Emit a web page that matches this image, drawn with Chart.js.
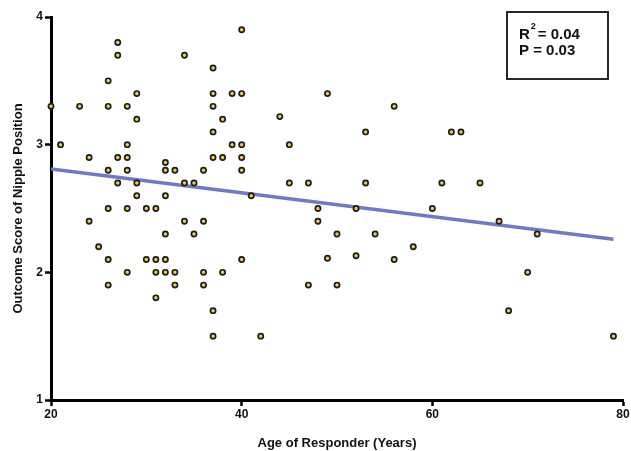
<!DOCTYPE html>
<html>
<head>
<meta charset="utf-8">
<script src="https://cdn.jsdelivr.net/npm/chart.js@4"></script>
<style>
  html, body { margin: 0; padding: 0; background: #fff; }
  #wrap { width: 631px; height: 451px; }
</style>
</head>
<body>
<div id="wrap"><canvas id="myChart" width="631" height="451"></canvas></div>
<script>
// age of responder (years) and outcome score
const ages = [27, 27, 26, 29, 20, 23, 26, 28, 29, 21, 28, 24, 27, 28, 26, 28, 27, 29, 29, 26,
  28, 30, 24, 25, 26, 30, 28, 26, 40, 34, 37, 37, 39, 40, 37, 38, 37, 39, 40, 37,
  38, 40, 32, 32, 33, 36, 40, 34, 35, 32, 41, 31, 34, 36, 32, 35, 31, 32, 40, 31,
  32, 33, 36, 38, 33, 36, 31, 37, 37, 49, 56, 44, 53, 45, 45, 47, 53, 48, 52, 60,
  48, 50, 54, 58, 49, 52, 56, 47, 50, 42, 62, 63, 61, 65, 67, 71, 70, 68, 79]
const scores = [3.8, 3.7, 3.5, 3.4, 3.3, 3.3, 3.3, 3.3, 3.2, 3.0, 3.0, 2.9, 2.9, 2.9, 2.8, 2.8, 2.7, 2.7, 2.6, 2.5,
  2.5, 2.5, 2.4, 2.2, 2.1, 2.1, 2.0, 1.9, 3.9, 3.7, 3.6, 3.4, 3.4, 3.4, 3.3, 3.2, 3.1, 3.0, 3.0, 2.9,
  2.9, 2.9, 2.86, 2.8, 2.8, 2.8, 2.8, 2.7, 2.7, 2.6, 2.6, 2.5, 2.4, 2.4, 2.3, 2.3, 2.1, 2.1, 2.1, 2.0,
  2.0, 2.0, 2.0, 2.0, 1.9, 1.9, 1.8, 1.7, 1.5, 3.4, 3.3, 3.22, 3.1, 3.0, 2.7, 2.7, 2.7, 2.5, 2.5, 2.5,
  2.4, 2.3, 2.3, 2.2, 2.11, 2.13, 2.1, 1.9, 1.9, 1.5, 3.1, 3.1, 2.7, 2.7, 2.4, 2.3, 2.0, 1.7, 1.5]

// fitted regression line end points
const fitX = [20, 79]
const fitY = [2.81, 2.26]

const xTicks = [20, 40, 60, 80]
const yTicks = [1, 2, 3, 4]
const stats = ["0.04", "0.03"]

const FONT = "'Liberation Sans', Arial, sans-serif"

const statsBox = {
  id: 'statsBox',
  afterDraw(chart) {
    const ctx = chart.ctx
    const area = chart.chartArea
    const x0 = area.right - 116, y0 = area.top - 5
    ctx.save()
    ctx.strokeStyle = '#111'
    ctx.lineWidth = 1.8
    ctx.strokeRect(x0, y0, 101, 67)
    ctx.fillStyle = '#111'
    ctx.textBaseline = 'alphabetic'
    ctx.font = 'bold 15px ' + FONT
    ctx.fillText('R', x0 + 12, y0 + 27)
    const rw = ctx.measureText('R').width
    ctx.font = 'bold 9px ' + FONT
    ctx.fillText('2', x0 + 12 + rw + 1, y0 + 17)
    ctx.font = 'bold 15px ' + FONT
    ctx.fillText('= ' + stats[0], x0 + 12 + rw + 8, y0 + 27)
    ctx.fillText('P = ' + stats[1], x0 + 12, y0 + 43)
    ctx.restore()
  }
}

const data = {
  datasets: [
    {
      type: 'scatter',
      data: ages.map((a, i) => ({ x: a, y: scores[i] })),
      pointRadius: 2.6,
      pointBackgroundColor: '#f2cc50',
      pointBorderColor: '#1c1c1c',
      pointBorderWidth: 1.7,
      clip: false,
      order: 1
    },
    {
      type: 'line',
      data: fitX.map((x, i) => ({ x: x, y: fitY[i] })),
      borderColor: '#7079c6',
      borderWidth: 3.5,
      pointRadius: 0,
      fill: false,
      order: 2
    }
  ]
}

const config = {
  type: 'scatter',
  data: data,
  options: {
    responsive: false,
    animation: false,
    layout: { padding: { top: 17, right: 8, left: 0, bottom: 0 } },
    plugins: {
      legend: { display: false },
      tooltip: { enabled: false }
    },
    scales: {
      x: {
        type: 'linear',
        min: 20,
        max: 80,
        afterBuildTicks: s => { s.ticks = xTicks.map(v => ({ value: v })) },
        afterFit: s => { s.height = 51 },
        grid: { drawOnChartArea: false, drawTicks: true, tickLength: 6, tickColor: '#000', tickWidth: 2.5 },
        border: { display: true, color: '#000', width: 3 },
        ticks: { color: '#111', padding: 1, font: { family: FONT, size: 12, weight: 'bold' } },
        title: {
          display: true,
          text: 'Age of Responder (Years)',
          color: '#111',
          padding: { top: 10, bottom: 0 },
          font: { family: FONT, size: 13, weight: 'bold' }
        }
      },
      y: {
        type: 'linear',
        min: 1,
        max: 4,
        afterBuildTicks: s => { s.ticks = yTicks.map(v => ({ value: v })) },
        afterFit: s => { s.width = 51 },
        grid: { drawOnChartArea: false, drawTicks: true, tickLength: 6, tickColor: '#000', tickWidth: 2.5 },
        border: { display: true, color: '#000', width: 3 },
        ticks: { color: '#111', padding: 2, font: { family: FONT, size: 12, weight: 'bold' } },
        title: {
          display: true,
          text: 'Outcome Score of Nipple Position',
          color: '#111',
          padding: { top: 11, bottom: 0 },
          font: { family: FONT, size: 13, weight: 'bold' }
        }
      }
    }
  },
  plugins: [statsBox]
}

const MyChart = new Chart(
  document.getElementById('myChart'),
  config
)
</script>
</body>
</html>
